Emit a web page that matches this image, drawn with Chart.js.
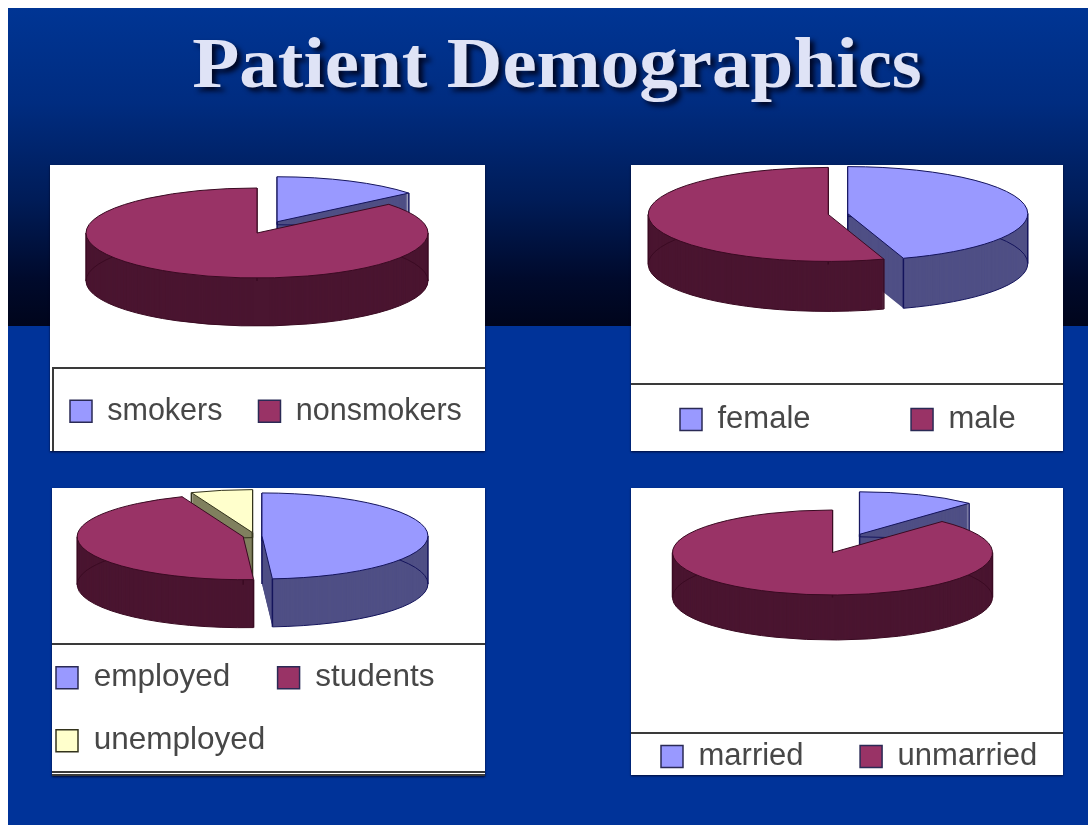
<!DOCTYPE html>
<html>
<head>
<meta charset="utf-8">
<script src="https://cdn.jsdelivr.net/npm/chart.js@4"></script>
<style>
html,body{margin:0;padding:0;width:1088px;height:825px;overflow:hidden;background:#fff}
#slide{position:absolute;left:8px;top:8px;width:1080px;height:817px;overflow:hidden;background:#003399}
#band{position:absolute;left:0;top:0;width:100%;height:318px;background:linear-gradient(180deg,#003594 0%,#002c80 30%,#001c58 60%,#000a2c 85%,#00051c 100%)}
#title{position:absolute;left:0;top:14px;width:1098px;text-align:center;margin:0;font:bold 72px "Liberation Serif",serif;color:#dfe3f6;text-shadow:4px 4px 5px rgba(0,0,20,.85);white-space:nowrap;transform:scaleX(1.07);filter:blur(.5px)}
.panel{position:absolute;background:#fff;box-shadow:0 1px 2px rgba(0,0,30,.8)}
.div{position:absolute;height:2px;background:#3a3a3a}
canvas{position:absolute;filter:blur(.45px)}
</style>
</head>
<body>
<div id="slide"><div id="band"></div><h1 id="title">Patient Demographics</h1></div>
<script>
// ---- data ----
const smokingLabels = ['smokers','nonsmokers'];
const smokingValues = [14,86];
const genderLabels = ['female','male'];
const genderValues = [45,55];
const occupationLabels = ['employed\u2002','students','unemployed'];
const occupationValues = [49,45,6];
const maritalLabels = ['married','unmarried'];
const maritalValues = [12,88];

const TOP = {blue:'#9999ff',red:'#993366',yellow:'#ffffcc'};
const WALL = {blue:'#4f4f85',red:'#4a1530',yellow:'#80805f'};
const EDGE = {blue:'#14145c',red:'#3a0a22',yellow:'#33331c'};

const panels = [
 {labels:smokingLabels,values:smokingValues,keys:['blue','red'],explode:[.276,0],
  box:[50,165,435,286],lines:[[52,367,433,2]],vline:[52,367,84],c:[257,233],rx:171,ry:45,depth:48,
  font:30.5,pad:36,legend:[70,396],cw:540},
 {labels:genderLabels,values:genderValues,keys:['blue','red'],explode:[.055,.055],
  box:[631,165,432,286],lines:[[631,383,432,2]],c:[838,214],rx:180,ry:47,depth:50,
  font:31,pad:100.5,legend:[680,404],cw:640},
 {labels:occupationLabels,values:occupationValues,keys:['blue','red','yellow'],explode:[.042,.073,.08],
  box:[52,488,433,288],lines:[[52,643,433,2],[52,771,433,2],[52,774,433,2]],c:[255,536],rx:166,ry:43,depth:48,
  font:31.5,pad:31.5,legend:[56,662],cw:500},
 {labels:maritalLabels,values:maritalValues,keys:['blue','red'],explode:[.46,0],
  box:[631,488,432,287],lines:[[631,732,432,2]],c:[832.5,552.5],rx:160,ry:42.5,depth:45,
  font:31,pad:56.5,legend:[661,741],cw:500}
];

const pie3d = {
  id:'pie3d',
  afterLayout(chart){
    const p = chart.options.plugins.pie3d, lg = chart.legend;
    const pad = lg.options.labels.padding;
    lg.left = p.legendAt[0] - p.box[0] - pad;
    lg.top  = p.legendAt[1] - p.box[1] - pad;
  },
  beforeDatasetsDraw(chart){
    const p = chart.options.plugins.pie3d, ctx = chart.ctx;
    const arcs = chart.getDatasetMeta(0).data;
    const cx = p.c[0]-p.box[0], cy = p.c[1]-p.box[1];
    const items = arcs.map((a,i)=>({a,i,mid:(a.startAngle+a.endAngle)/2}))
                      .sort((u,v)=>Math.sin(u.mid)-Math.sin(v.mid));
    items.forEach(({a,i,mid})=>{
      const key = p.keys[i], R = a.outerRadius, sx = p.rx/R, sy = p.ry/R;
      const ox = cx + Math.cos(mid)*p.explode[i]*p.rx;
      const oy = cy + Math.sin(mid)*p.explode[i]*p.ry;
      const setT = d => { ctx.setTransform(sx,0,0,sy,ox - a.x*sx,oy + d - a.y*sy); };
      const base = a.options;
      const fill = (d,col)=>{
        ctx.save(); setT(d);
        a.options = Object.assign({},base,{backgroundColor:col,borderWidth:0,borderColor:col});
        a.draw(ctx); a.options = base; ctx.restore();
      };
      const outline = (d,col,wedge)=>{
        ctx.save(); setT(d);
        ctx.beginPath();
        if(wedge) ctx.moveTo(a.x,a.y);
        ctx.arc(a.x,a.y,R,a.startAngle,a.endAngle);
        if(wedge) ctx.closePath();
        ctx.setTransform(1,0,0,1,0,0);
        ctx.lineWidth = 1; ctx.strokeStyle = col; ctx.stroke(); ctx.restore();
      };
      for(let d=p.depth;d>=1;d--) fill(d,WALL[key]);
      outline(p.depth,EDGE[key],false);
      // vertical edges of the wall at the slice corners and silhouette
      const norm = t => { t%=2*Math.PI; return t<0?t+2*Math.PI:t; };
      const inside = t => norm(t-a.startAngle)<=a.endAngle-a.startAngle;
      const corners = [[a.startAngle,R],[a.endAngle,R],[0,0]];
      if(inside(0)) corners.push([0,R]);
      if(inside(Math.PI)) corners.push([Math.PI,R]);
      ctx.save(); ctx.lineWidth=1.5; ctx.strokeStyle=EDGE[key];
      corners.forEach(([t,r])=>{
        const x=ox+Math.cos(t)*r*sx, y=oy+Math.sin(t)*r*sy;
        ctx.beginPath(); ctx.moveTo(x,y); ctx.lineTo(x,y+p.depth); ctx.stroke();
      });
      ctx.restore();
      fill(0,TOP[key]);
      outline(0,EDGE[key],true);
    });
    return false;
  }
};

panels.forEach(p=>{
  const [x,y,w,h] = p.box;
  const panel = document.createElement('div');
  panel.className='panel';
  panel.style.cssText=`left:${x}px;top:${y}px;width:${w}px;height:${h}px`;
  document.body.appendChild(panel);
  p.lines.forEach(l=>{
    const line = document.createElement('div');
    line.className='div';
    line.style.cssText=`left:${l[0]}px;top:${l[1]}px;width:${l[2]}px;height:${l[3]}px`;
    document.body.appendChild(line);
  });
  if(p.vline){
    const v = document.createElement('div');
    v.className='div';
    v.style.cssText=`left:${p.vline[0]}px;top:${p.vline[1]}px;width:2px;height:${p.vline[2]}px`;
    document.body.appendChild(v);
  }
  const cv = document.createElement('canvas');
  const cw = p.cw;
  cv.width=cw; cv.height=h;
  cv.style.cssText=`left:${x}px;top:${y}px;width:${cw}px;height:${h}px`;
  document.body.appendChild(cv);
  new Chart(cv,{
    type:'pie',
    data:{labels:p.labels,datasets:[{
      data:p.values,
      backgroundColor:p.keys.map(k=>TOP[k]),
      borderColor:p.keys.map(k=>k==='yellow'?'#33331c':'#2a2a55'),
      borderWidth:1.5
    }]},
    options:{
      responsive:false,animation:false,
      layout:{padding:0},
      plugins:{
        tooltip:{enabled:false},
        pie3d:{box:p.box,c:p.c,rx:p.rx,ry:p.ry,depth:p.depth,keys:p.keys,explode:p.explode,legendAt:p.legend},
        legend:{position:'bottom',align:'start',
          labels:{boxWidth:22,boxHeight:22,padding:p.pad,color:'#474747',
                  font:{family:'"Liberation Sans",Arial,sans-serif',size:p.font}}}
      }
    },
    plugins:[pie3d]
  });
});
</script>
</body>
</html>
